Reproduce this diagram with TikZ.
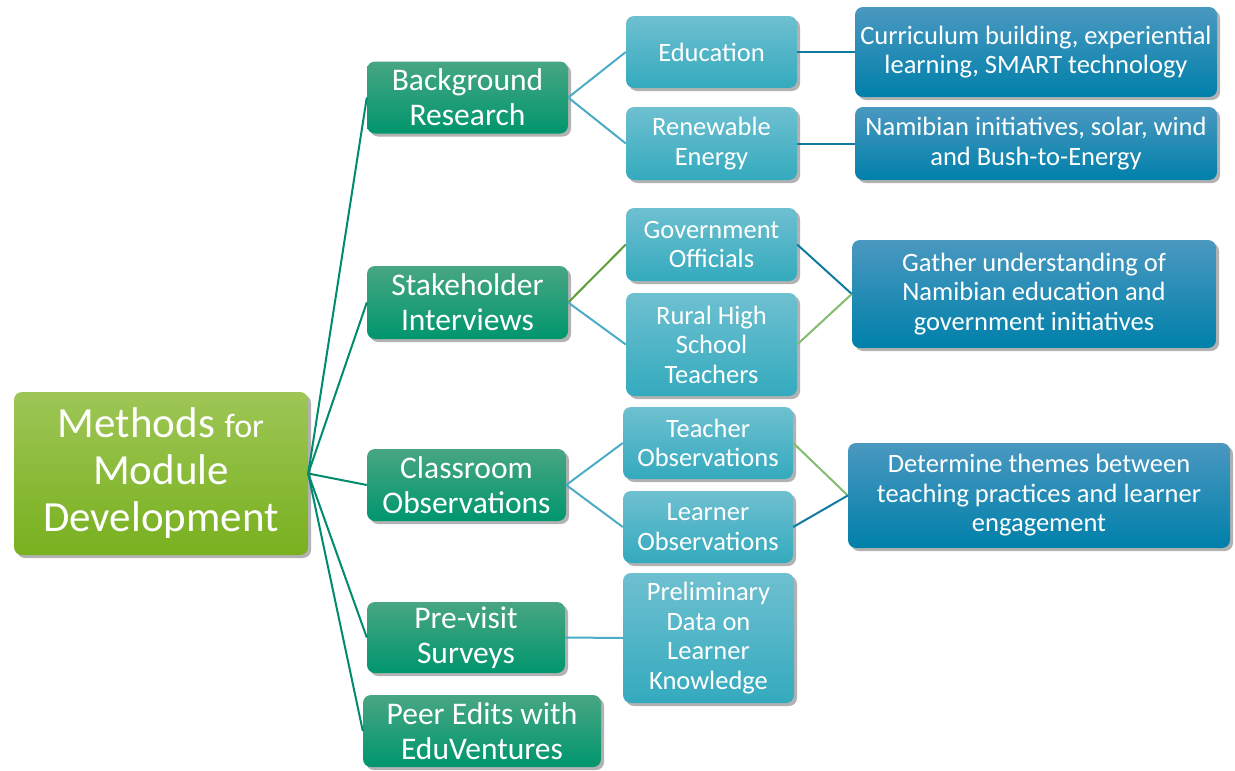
\documentclass[tikz,border=0pt]{standalone}
\usepackage{fontspec}
\setmainfont{Carlito}
\usepackage{tikz}
\usetikzlibrary{%
  shadows,%
}

\definecolor{rootTop}{RGB}{158,198,86}
\definecolor{rootBot}{RGB}{120,176,30}
\definecolor{methTop}{RGB}{72,166,130}
\definecolor{methBot}{RGB}{0,150,110}
\definecolor{srcTop}{RGB}{110,192,208}
\definecolor{srcBot}{RGB}{52,170,190}
\definecolor{goalTop}{RGB}{74,152,192}
\definecolor{goalBot}{RGB}{0,128,170}
\definecolor{rootLink}{RGB}{0,140,108}
\definecolor{srcLink}{RGB}{75,172,198}
\definecolor{goalLink}{RGB}{16,122,160}
\definecolor{greenLink}{RGB}{96,158,58}
\definecolor{paleLink}{RGB}{130,188,110}

\begin{document}
\begin{tikzpicture}[x=1pt, y=-1pt,
    box/.style={rounded corners=8pt, text=white, align=center, inner sep=0pt,
      drop shadow={shadow xshift=3pt, shadow yshift=-3pt, fill=black, opacity=0.3}},
    dims/.style 2 args={minimum width=#1pt, minimum height=#2pt},
    rootbox/.style={box, top color=rootTop, bottom color=rootBot,
      font=\fontsize{43}{47}\selectfont},
    methbox/.style={box, top color=methTop, bottom color=methBot,
      font=\fontsize{31.5}{35}\selectfont},
    srcbox/.style={box, top color=srcTop, bottom color=srcBot,
      font=\fontsize{26.5}{29.5}\selectfont},
    goalbox/.style={box, top color=goalTop, bottom color=goalBot,
      font=\fontsize{26.5}{29.5}\selectfont},
    link/.style={line width=2pt},
  ]

      \useasboundingbox (0, 0) rectangle (1235, 771);

      \node[rootbox, dims={294}{163}] (root) at (161, 473.5)
        {Methods {\fontsize{34}{47}\selectfont for}\\Module\\Development};

      \node[methbox, dims={201}{72}] (bgres) at (467.5, 97.5) {Background\\Research};
      \node[methbox, dims={201}{73}] (stake) at (467.5, 302.5) {Stakeholder\\Interviews};
      \node[methbox, dims={199}{72}] (classobs) at (466.5, 485) {Classroom\\Observations};
      \node[methbox, dims={198}{71}] (previsit) at (466, 637.5) {Pre-visit\\Surveys};
      \node[methbox, dims={238}{72}] (peer) at (482, 731) {Peer Edits with\\EduVentures};

      \node[srcbox, dims={171}{72}] (edu) at (711.5, 52) {Education};
      \node[srcbox, dims={171}{73}] (renew) at (711.5, 143.5) {Renewable\\Energy};
      \node[srcbox, dims={171}{73}] (gov) at (711.5, 244.5) {Government\\Officials};
      \node[srcbox, dims={171}{103}] (rural) at (711.5, 344.5) {Rural High\\School\\Teachers};
      \node[srcbox, dims={170}{72}] (teach) at (708, 443) {Teacher\\Observations};
      \node[srcbox, dims={170}{72}] (learn) at (708, 527) {Learner\\Observations};
      \node[srcbox, dims={171}{130}] (prelim) at (708.5, 638) {Preliminary\\Data on\\Learner\\Knowledge};

      \node[goalbox, dims={362}{90}] (curric) at (1036, 52)
        {Curriculum building, experiential\\learning, SMART technology};
      \node[goalbox, dims={362}{73}] (namib) at (1036, 143.5)
        {Namibian initiatives, solar, wind\\and Bush-to-Energy};
      \node[goalbox, dims={364}{108}] (gather) at (1034, 294)
        {Gather understanding of\\Namibian education and\\government initiatives};
      \node[goalbox, dims={382}{105}] (themes) at (1039, 495.5)
        {Determine themes between\\teaching practices and learner\\engagement};

      \foreach \m in {bgres, stake, classobs, previsit, peer}
        \draw[link, rootLink] (root.east) -- (\m.west);

      \draw[link, srcLink] (bgres.east) -- (edu.west);
      \draw[link, srcLink] (bgres.east) -- (renew.west);
      \draw[link, greenLink] (stake.east) -- (gov.west);
      \draw[link, srcLink] (stake.east) -- (rural.west);
      \draw[link, srcLink] (classobs.east) -- (teach.west);
      \draw[link, srcLink] (classobs.east) -- (learn.west);
      \draw[link, srcLink] (previsit.east) -- (prelim.west);

      \draw[link, goalLink] (edu.east) -- (curric.west);
      \draw[link, goalLink] (renew.east) -- (namib.west);
      \draw[link, goalLink] (gov.east) -- (gather.west);
      \draw[link, paleLink] (rural.east) -- (gather.west);
      \draw[link, paleLink] (teach.east) -- (themes.west);
      \draw[link, goalLink] (learn.east) -- (themes.west);
    \end{tikzpicture}
\end{document}
